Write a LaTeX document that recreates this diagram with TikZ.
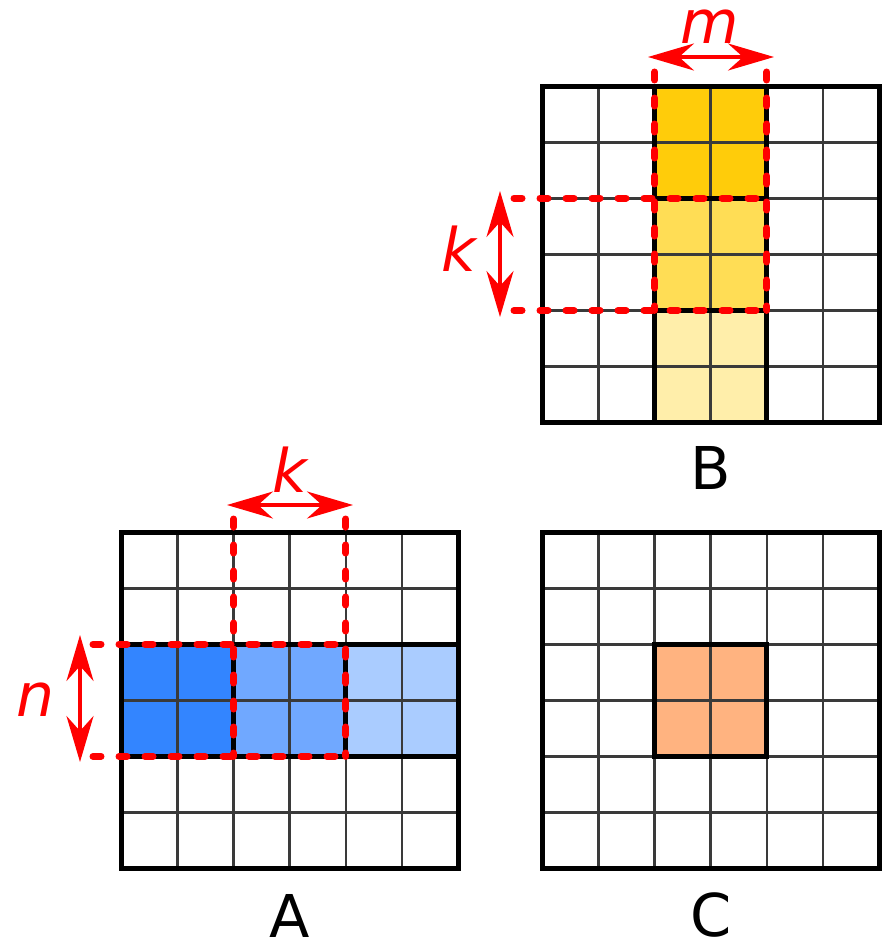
\documentclass[tikz,border=0pt]{standalone}
\usepackage{fontspec}
\setmainfont{DejaVu Sans}
\usetikzlibrary{arrows.meta}
\definecolor{blueA}{HTML}{3385FF}
\definecolor{blueB}{HTML}{70A8FF}
\definecolor{blueC}{HTML}{AACCFF}
\definecolor{yelA}{HTML}{FFCC0A}
\definecolor{yelB}{HTML}{FFDD55}
\definecolor{yelC}{HTML}{FFEEAA}
\definecolor{orng}{HTML}{FFB380}
\definecolor{gridgray}{HTML}{3A3A3A}
\definecolor{redline}{HTML}{FF0000}
\tikzset{
  gridline/.style={draw=gridgray, line width=2.8pt},
  outerline/.style={draw=black, line width=5pt, line join=miter},
  redbox/.style={draw=redline, line width=7pt, line cap=round, dash pattern=on 8pt off 18pt},
  dimarrow/.style={draw=redline, line width=3.2pt, {Stealth[length=46pt,width=27pt,inset=15pt]}-{Stealth[length=46pt,width=27pt,inset=15pt]}},
  varlabel/.style={text=redline, font=\fontsize{60}{60}\selectfont\itshape, anchor=base, inner sep=0pt, text depth=0pt},
  gridlabel/.style={text=black, font=\fontsize{59}{59}\selectfont, anchor=base, inner sep=0pt, text height=44pt, text depth=0pt}
}
\newcommand\mygrid[2]{%
  \foreach \i in {1,...,5} {
    \draw[gridline] ({#1+\i*56.1},#2) -- ++(0,336.6);
    \draw[gridline] (#1,{#2+\i*56.1}) -- ++(336.6,0);
  }
}
\begin{document}
\begin{tikzpicture}[x=1pt,y=-1pt]
\useasboundingbox (0,0) rectangle (883,942);
\fill[white] (0,0) rectangle (883,942);
% ---------- fills
% A
\fill[blueA] (121.5,644.2) rectangle (233.7,756.4);
\fill[blueB] (233.7,644.2) rectangle (345.9,756.4);
\fill[blueC] (345.9,644.2) rectangle (458.1,756.4);
% B
\fill[yelA] (654.7,86) rectangle (766.9,198.2);
\fill[yelB] (654.7,198.2) rectangle (766.9,310.4);
\fill[yelC] (654.7,310.4) rectangle (766.9,422.6);
% C
\fill[orng] (654.7,644.2) rectangle (766.9,756.4);
% ---------- thin grids
\mygrid{121.5}{532}
\mygrid{542.5}{86}
\mygrid{542.5}{532}
% ---------- thick outlines
\draw[outerline] (121.5,532) rectangle (458.1,868.6);
\draw[outerline] (542.5,86) rectangle (879.1,422.6);
\draw[outerline] (542.5,532) rectangle (879.1,868.6);
\draw[outerline] (121.5,644.2) rectangle (458.1,756.4);
\draw[outerline] (233.7,644.2) -- (233.7,756.4);
\draw[outerline] (345.9,644.2) -- (345.9,756.4);
\draw[outerline] (654.7,86) rectangle (766.9,422.6);
\draw[outerline] (654.7,198.2) -- (766.9,198.2);
\draw[outerline] (654.7,310.4) -- (766.9,310.4);
\draw[outerline] (654.7,644.2) rectangle (766.9,756.4);
% ---------- coordinates for dashed guides
\coordinate (Bt1) at (654.7,72);
\coordinate (Bt2) at (766.9,72);
\coordinate (Bb1) at (654.7,310.4);
\coordinate (Bb2) at (766.9,310.4);
\coordinate (Bl1) at (514,198.2);
\coordinate (Bl2) at (514,310.4);
\coordinate (Bm1) at (766.9,198.2);
\coordinate (At1) at (233.7,519);
\coordinate (At2) at (345.9,519);
\coordinate (Ab1) at (233.7,756.4);
\coordinate (Ab2) at (345.9,756.4);
\coordinate (Al1) at (93,644.2);
\coordinate (Al2) at (93,756.4);
\coordinate (Am1) at (345.9,644.2);
% ---------- red dashed lines
\draw[redbox] (Bt1) -- (Bb1);
\draw[redbox] (Bt2) -- (Bb2);
\draw[redbox] (Bl1) -- (Bm1);
\draw[redbox] (Bl2) -- (Bb2);
\draw[redbox] (At1) -- (Ab1);
\draw[redbox] (At2) -- (Ab2);
\draw[redbox] (Al1) -- (Am1);
\draw[redbox] (Al2) -- (Ab2);
% ---------- arrows
\coordinate (mL) at (648,57);
\coordinate (mR) at (774,57);
\coordinate (kBt) at (500,191);
\coordinate (kBb) at (500,317);
\coordinate (kAl) at (227,505);
\coordinate (kAr) at (353,505);
\coordinate (nt) at (80,635);
\coordinate (nb) at (80,762);
\draw[dimarrow] (mL) -- (mR);
\draw[dimarrow] (kBt) -- (kBb);
\draw[dimarrow] (kAl) -- (kAr);
\draw[dimarrow] (nt) -- (nb);
% ---------- labels
\node[varlabel, text height=34pt] (lm) at (710,44) {m};
\node[varlabel, text height=46pt] (lkB) at (459,271) {k};
\node[varlabel, text height=46pt] (lkA) at (290,492) {k};
\node[varlabel, text height=34pt] (ln) at (36,716) {n};
\node[gridlabel] (lA) at (290,937) {A};
\node[gridlabel] (lB) at (711,489) {B};
\node[gridlabel] (lC) at (711,936) {C};
\end{tikzpicture}
\end{document}
